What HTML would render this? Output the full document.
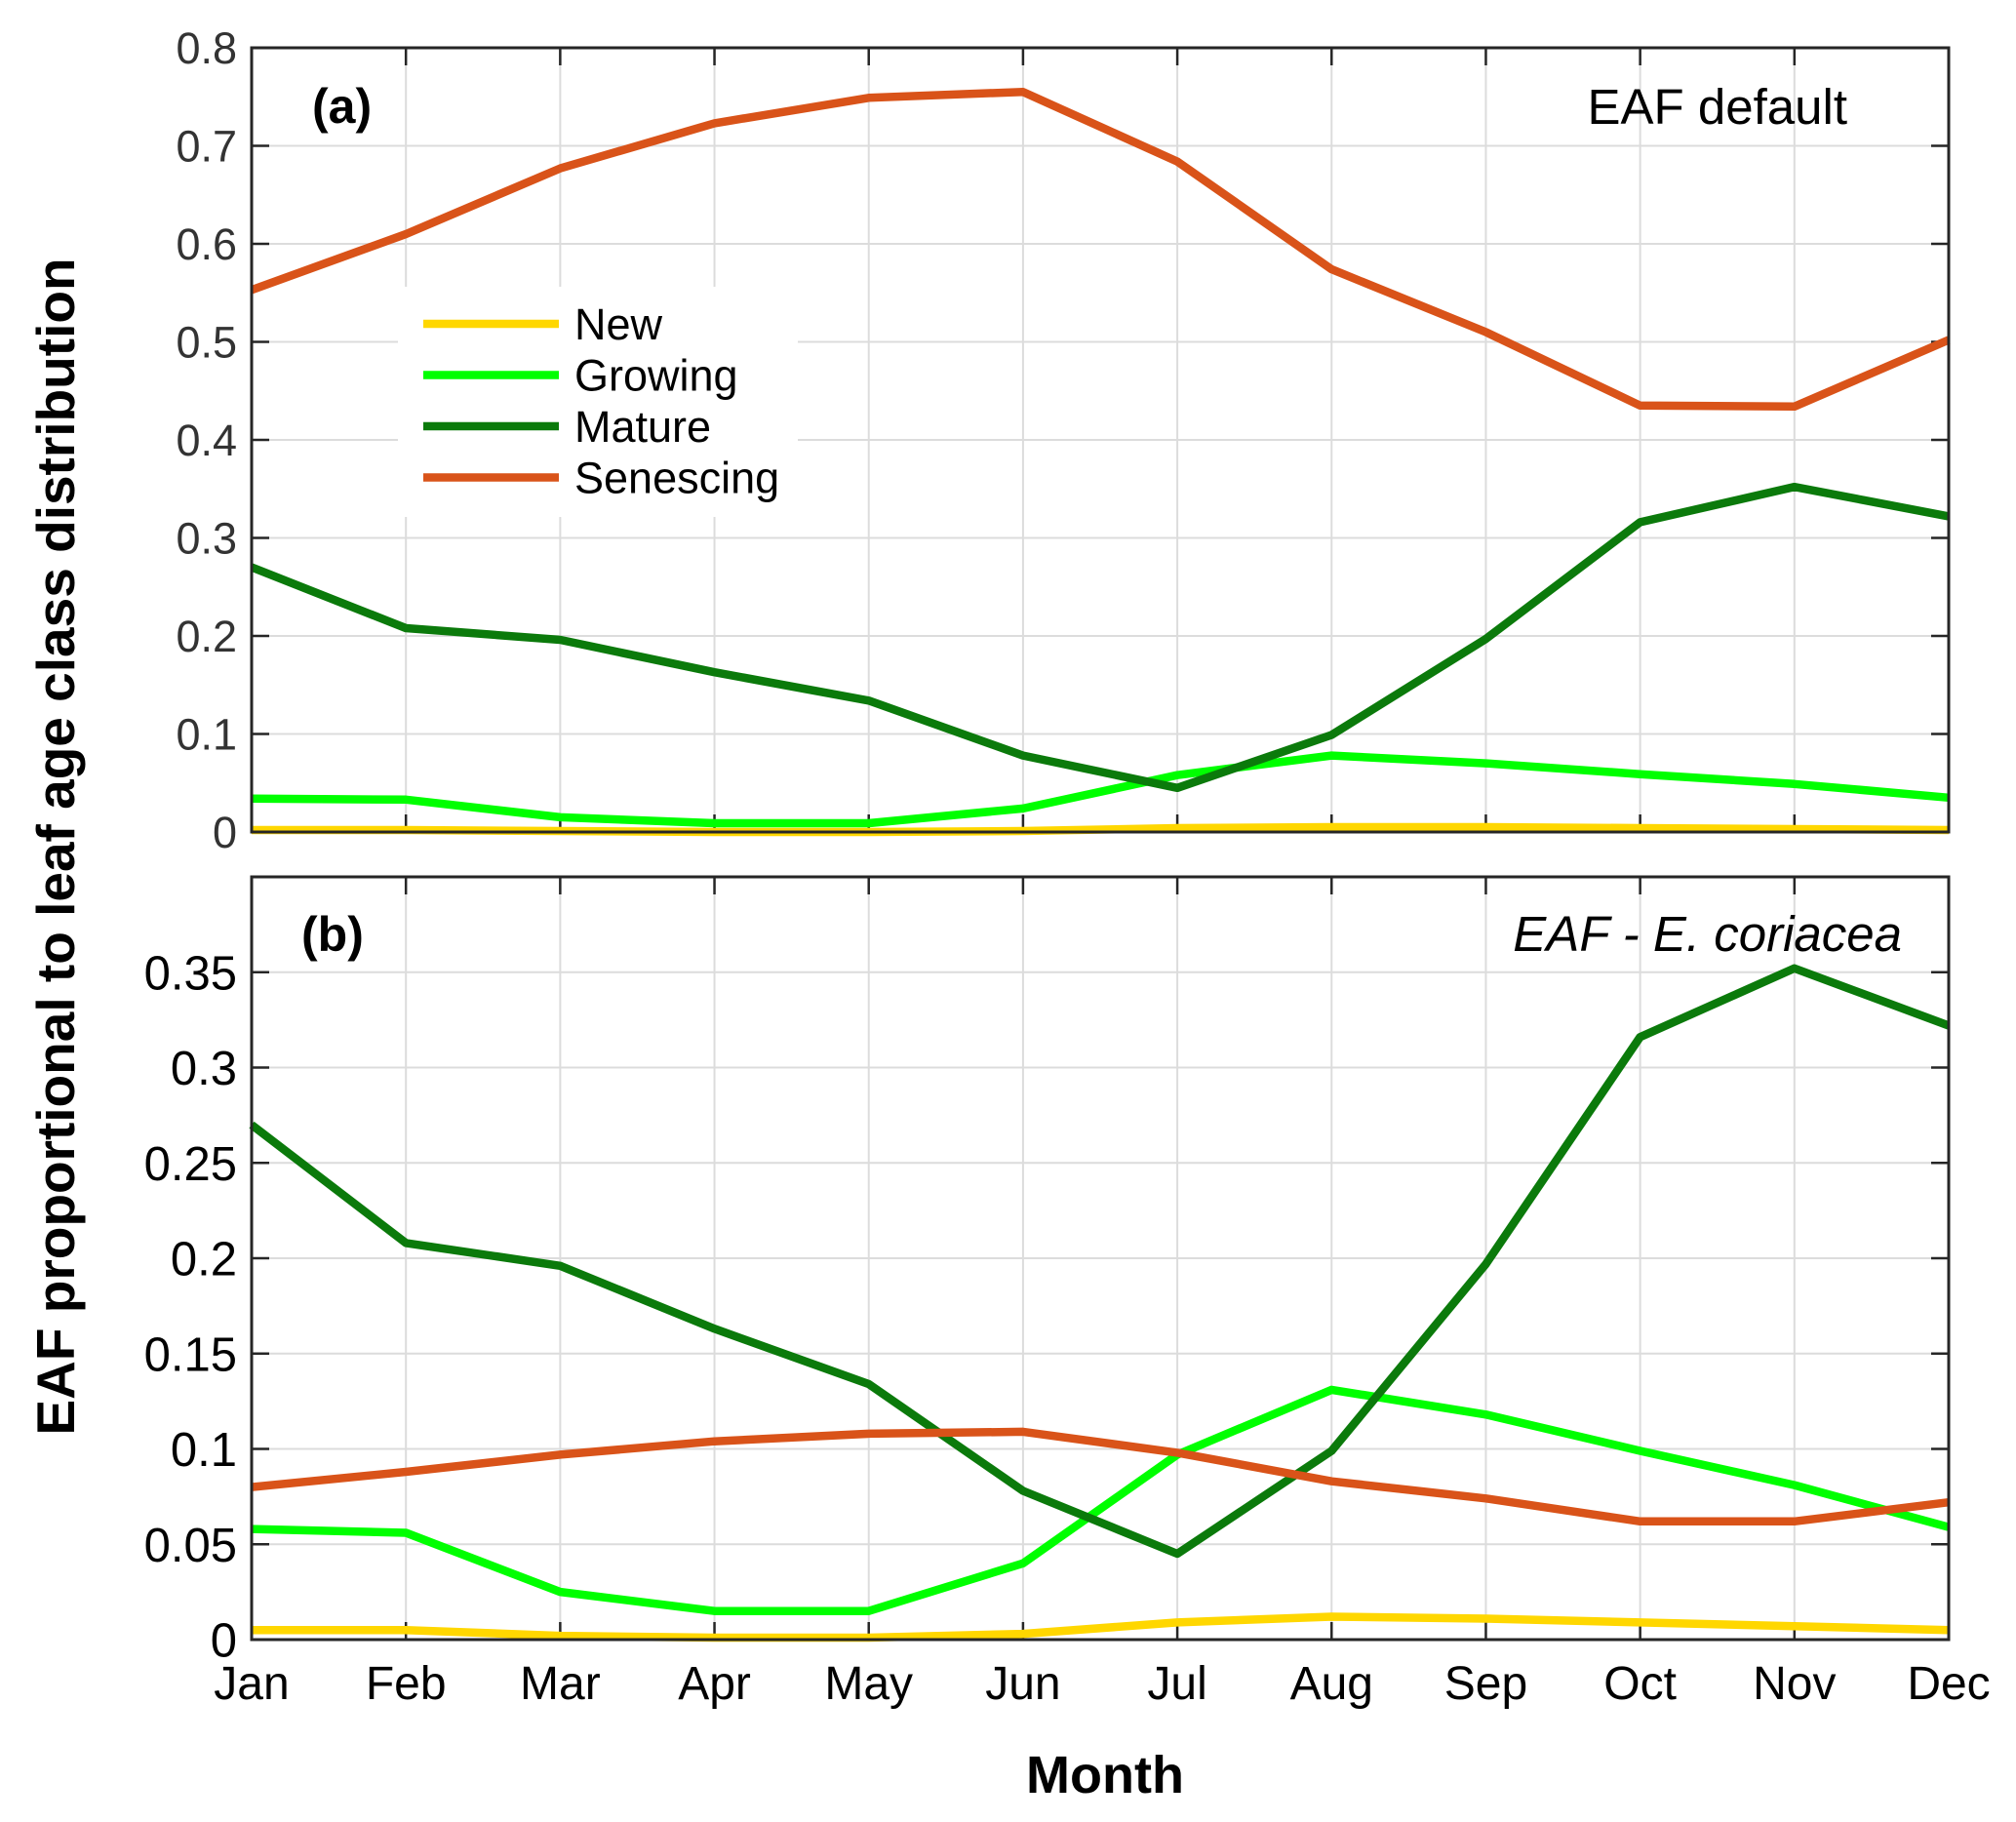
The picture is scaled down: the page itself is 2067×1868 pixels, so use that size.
<!DOCTYPE html>
<html><head><meta charset="utf-8"><style>
html,body{margin:0;padding:0;background:#fff}
svg{display:block;font-family:"Liberation Sans",Arial,sans-serif}
</style></head><body>
<svg id="chart" width="2067" height="1868" viewBox="0 0 2067 1868" xmlns="http://www.w3.org/2000/svg">
<g id="layer"></g>
<text x="320" y="126" font-size="50" font-weight="bold">(a)</text>
<text x="1894" y="127" font-size="51" text-anchor="end">EAF default</text>
<text x="309" y="975" font-size="50" font-weight="bold">(b)</text>
<text x="1950" y="975" font-size="51" font-style="italic" text-anchor="end">EAF - E. coriacea</text>
<text x="1133" y="1838" font-size="54" font-weight="bold" text-anchor="middle">Month</text>
<text transform="translate(76,868) rotate(-90)" font-size="55" font-weight="bold" text-anchor="middle">EAF proportional to leaf age class distribution</text>
</svg>
<script>
const months=["Jan","Feb","Mar","Apr","May","Jun","Jul","Aug","Sep","Oct","Nov","Dec"];
const ticksA=[0,0.1,0.2,0.3,0.4,0.5,0.6,0.7,0.8];
const tickLabelsA=["0","0.1","0.2","0.3","0.4","0.5","0.6","0.7","0.8"];
const ticksB=[0,0.05,0.1,0.15,0.2,0.25,0.3,0.35];
const tickLabelsB=["0","0.05","0.1","0.15","0.2","0.25","0.3","0.35"];
const seriesNames=["New","Growing","Mature","Senescing"];
const aNew=[0.002,0.002,0.001,0,0,0.001,0.004,0.005,0.005,0.004,0.003,0.002];
const aGrowing=[0.034,0.033,0.015,0.009,0.009,0.024,0.058,0.078,0.07,0.059,0.049,0.035];
const aMature=[0.27,0.208,0.196,0.163,0.134,0.078,0.045,0.099,0.197,0.316,0.352,0.322];
const aSenescing=[0.553,0.61,0.677,0.723,0.749,0.755,0.684,0.574,0.51,0.435,0.434,0.502];
const bNew=[0.005,0.005,0.002,0.001,0.001,0.003,0.009,0.012,0.011,0.009,0.007,0.005];
const bGrowing=[0.058,0.056,0.025,0.015,0.015,0.04,0.097,0.131,0.118,0.099,0.081,0.059];
const bMature=[0.27,0.208,0.196,0.163,0.134,0.078,0.045,0.099,0.197,0.316,0.352,0.322];
const bSenescing=[0.08,0.088,0.097,0.104,0.108,0.109,0.098,0.083,0.074,0.062,0.062,0.072];

const NS="http://www.w3.org/2000/svg";
const layer=document.getElementById('layer');
const colors=["#ffd700","#00ff00","#0b7a0b","#d95319"];
function mk(tag,attrs,parent){const e=document.createElementNS(NS,tag);for(const k in attrs)e.setAttribute(k,attrs[k]);(parent||layer).appendChild(e);return e;}
const X0=258,X1=1998;
function xs(i){return X0+i*(X1-X0)/(months.length-1);}

function panel(key,top,bot,ymax,ticks,labels,data,labelColor,fs){
  const g=mk('g',{});
  
  
  const ys=v=>bot-(v/ymax)*(bot-top);
  for(let i=0;i<months.length;i++){
    const l=mk('line',{x1:xs(i),x2:xs(i),y1:top,y2:bot,stroke:'#dcdcdc','stroke-width':2},g);
    
    
    mk('line',{x1:xs(i),x2:xs(i),y1:top,y2:top+18,stroke:'#262626','stroke-width':2.5},g);
    mk('line',{x1:xs(i),x2:xs(i),y1:bot,y2:bot-18,stroke:'#262626','stroke-width':2.5},g);
  }
  ticks.forEach((t,i)=>{
    const y=ys(t);
    const l=mk('line',{x1:X0,x2:X1,y1:y,y2:y,stroke:'#dcdcdc','stroke-width':2},g);
    
    
    mk('line',{x1:X0,x2:X0+18,y1:y,y2:y,stroke:'#262626','stroke-width':2.5},g);
    mk('line',{x1:X1,x2:X1-18,y1:y,y2:y,stroke:'#262626','stroke-width':2.5},g);
    const tx=mk('text',{x:X0-15,y:y+fs*0.36,'text-anchor':'end','font-size':fs,fill:labelColor},g);
    tx.textContent=labels[i];
    
    
  });
  data.forEach((arr,si)=>{
    const pts=arr.map((v,i)=>xs(i).toFixed(1)+','+ys(v).toFixed(1)).join(' ');
    const p=mk('polyline',{points:pts,fill:'none',stroke:colors[si],'stroke-width':8.5,'stroke-linejoin':'round'},g);
    
    
  });
  const r=mk('rect',{x:X0,y:top,width:X1-X0,height:bot-top,fill:'none',stroke:'#262626','stroke-width':3},g);
  
  
  return g;
}
panel('a',49,853,0.8,ticksA,tickLabelsA,[aNew,aGrowing,aMature,aSenescing],'#333',45);
panel('b',899,1681,0.4,ticksB,tickLabelsB,[bNew,bGrowing,bMature,bSenescing],'#000',49);

months.forEach((m,i)=>{
  const t=mk('text',{x:xs(i),y:1742,'text-anchor':'middle','font-size':48,fill:'#000'});
  t.textContent=m;
  
  
});

const lg=mk('g',{});


mk('rect',{x:408,y:294,width:410,height:236,fill:'#fff'},lg);
seriesNames.forEach((n,i)=>{
  const y=332+i*52.5;
  const l=mk('line',{x1:434,x2:573,y1:y,y2:y,stroke:colors[i],'stroke-width':8.5},lg);
  
  
  const t=mk('text',{x:589,y:y+16,'font-size':45,fill:'#000'},lg);
  t.textContent=n;
  
  
});
</script>
</body></html>
